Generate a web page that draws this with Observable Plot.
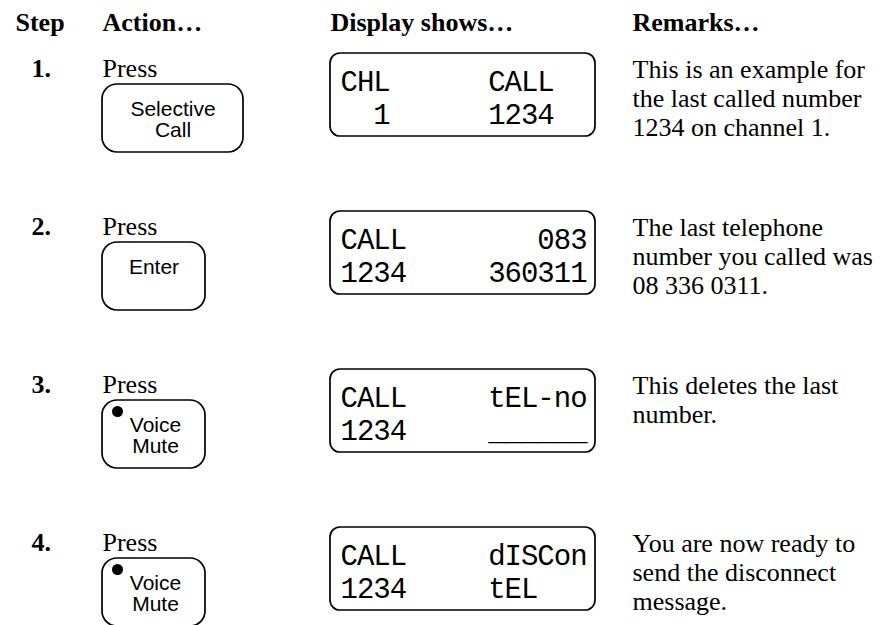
<!DOCTYPE html>
<html>
<head>
<meta charset="utf-8">
<script src="https://cdn.jsdelivr.net/npm/d3@7"></script>
<script src="https://cdn.jsdelivr.net/npm/@observablehq/plot@0.6"></script>
<style>
  html, body { margin: 0; padding: 0; background: #fff; overflow: hidden; }
  g[font-family*="Mono"] text { letter-spacing: -1px; }
</style>
</head>
<body>
<div id="chart"></div>
<script>
// ---- content ----
const headers = ["Step", "Action…", "Display shows…", "Remarks…"];
const steps = ["1.", "2.", "3.", "4."];
const actionWord = "Press";
const buttonLabels = ["Selective\nCall", "Enter", "Voice\nMute", "Voice\nMute"];
const buttonLed = [false, false, true, true];
const displayLine1 = ["CHL      CALL", "CALL        083", "CALL     tEL-no", "CALL     dISCon"];
const displayLine2 = ["  1      1234", "1234     360311", "1234     ______", "1234     tEL"];
const remarks = [
  "This is an example for\nthe last called number\n1234 on channel 1.",
  "The last telephone\nnumber you called was\n08 336 0311.",
  "This deletes the last\nnumber.",
  "You are now ready to\nsend the disconnect\nmessage."
];

// ---- layout (code, not data) ----
const W = 882, H = 625;
const rowPitch = 158;
const headerY = 30;
const headerX = [15, 102, 330, 632];
const stepX = 31, pressY0 = 76;
const btnX = 102, btnTop0 = 84, btnH = 68;
const dispX1 = 330, dispX2 = 595, dispTop0 = 53, dispH = 83;
const lcdX = 340;
const remarkX = 632, remarkY0 = 77, remarkFont = 26, remarkLH = 29.5;
const btnFont = 21, btnLH = 22;

const rows = steps.map((s, i) => ({
  i, step: s, button: buttonLabels[i], led: buttonLed[i],
  l1: displayLine1[i], l2: displayLine2[i], remark: remarks[i]
}));
const hdr = headers.map((h, j) => ({h, j}));
const btnW = d => Math.max(103, Math.max(...d.button.split("\n").map(s => s.length)) * 10 + 51);
const serif = "Liberation Serif, Times New Roman, serif";
const sans = "Liberation Sans, Arial, Helvetica, sans-serif";
const mono = "Liberation Mono, DejaVu Sans Mono, monospace";

const chart = Plot.plot({
  width: W, height: H, margin: 0,
  x: {domain: [0, W], range: [0, W], axis: null},
  y: {domain: [0, H], range: [0, H], axis: null},
  style: {background: "white", color: "black"},
  marks: [
    // headers
    Plot.text(hdr, {x: d => headerX[d.j], y: () => headerY, text: "h", textAnchor: "start", lineAnchor: "bottom",
      fontFamily: serif, fontWeight: "bold", fontSize: 26, fill: "black"}),
    // step numbers
    Plot.text(rows, {x: () => stepX, y: d => pressY0 + rowPitch * d.i, text: "step", textAnchor: "start", lineAnchor: "bottom",
      fontFamily: serif, fontWeight: "bold", fontSize: 26, fill: "black"}),
    // "Press"
    Plot.text(rows, {x: () => btnX, y: d => pressY0 + rowPitch * d.i, text: () => actionWord, textAnchor: "start", lineAnchor: "bottom",
      fontFamily: serif, fontSize: 26, fill: "black"}),
    // buttons
    Plot.rect(rows, {x1: () => btnX, x2: d => btnX + btnW(d), y1: d => btnTop0 + rowPitch * d.i, y2: d => btnTop0 + rowPitch * d.i + btnH,
      rx: 15, fill: "none", stroke: "black", strokeWidth: 1.7}),
    Plot.text(rows, {x: d => btnX + btnW(d) / 2 + (d.led ? 1.5 : 0), y: d => btnTop0 + rowPitch * d.i + 31 - 0.71 * btnLH,
      text: "button", lineAnchor: "top", lineHeight: btnLH / btnFont, fontFamily: sans, fontSize: btnFont, fill: "black"}),
    Plot.dot(rows.filter(d => d.led), {x: () => btnX + 15, y: d => btnTop0 + rowPitch * d.i + 11, r: 5.5, fill: "black", stroke: "none"}),
    // displays
    Plot.rect(rows, {x1: () => dispX1, x2: () => dispX2, y1: d => dispTop0 + rowPitch * d.i, y2: d => dispTop0 + rowPitch * d.i + dispH,
      rx: 10, fill: "none", stroke: "black", strokeWidth: 1.7}),
    Plot.text(rows, {x: () => lcdX, y: d => dispTop0 + rowPitch * d.i + 37, text: "l1", textAnchor: "start", lineAnchor: "bottom",
      fontFamily: mono, fontSize: 29, fill: "black"}),
    Plot.text(rows, {x: () => lcdX, y: d => dispTop0 + rowPitch * d.i + 70, text: "l2", textAnchor: "start", lineAnchor: "bottom",
      fontFamily: mono, fontSize: 29, fill: "black"}),
    // remarks
    Plot.text(rows, {x: () => remarkX, y: d => remarkY0 + rowPitch * d.i - 0.71 * remarkLH, text: "remark", textAnchor: "start",
      lineAnchor: "top", lineHeight: remarkLH / remarkFont, fontFamily: serif, fontSize: remarkFont, fill: "black"})
  ]
});
document.getElementById("chart").appendChild(chart);
</script>
</body>
</html>
